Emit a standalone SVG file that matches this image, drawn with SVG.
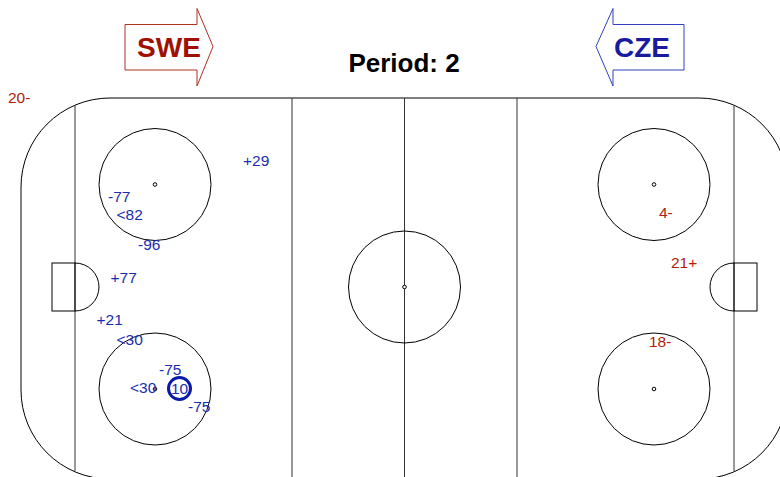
<svg xmlns="http://www.w3.org/2000/svg" width="780" height="477" viewBox="0 0 780 477">
<style>
.ln{fill:none;stroke:#000;stroke-width:1}
.gl{fill:none;stroke:#333;stroke-width:1}
.dot{fill:#fff;stroke:#000;stroke-width:1}
.lb{font-family:"Liberation Sans",Arial,sans-serif;font-size:15.5px}
.bl{fill:#1a2cb0}
.rd{fill:#b01e0a}
.team{font-family:"Liberation Sans",Arial,sans-serif;font-size:28px;font-weight:bold;text-anchor:middle}
</style>
<rect width="780" height="477" fill="#fff"/>
<g id="rink">
<rect class="ln" x="21" y="98" width="767" height="381" rx="89" ry="89"/>
<line class="gl" x1="75" y1="105" x2="75" y2="471"/>
<line class="gl" x1="734" y1="105" x2="734" y2="471"/>
<line class="gl" x1="292" y1="98" x2="292" y2="477"/>
<line class="gl" x1="404.5" y1="98" x2="404.5" y2="477"/>
<line class="gl" x1="517" y1="98" x2="517" y2="477"/>
<circle class="ln" cx="404.5" cy="287" r="56"/>
<circle class="dot" cx="404.5" cy="287" r="1.8"/>
<circle class="ln" cx="155" cy="184.5" r="56"/>
<circle class="ln" cx="155" cy="389" r="56"/>
<circle class="ln" cx="654" cy="184.5" r="56"/>
<circle class="ln" cx="654" cy="389" r="56"/>
<circle class="dot" cx="155" cy="184.5" r="1.8"/>
<circle class="dot" cx="155" cy="389" r="1.8"/>
<circle class="dot" cx="654" cy="184.5" r="1.8"/>
<circle class="dot" cx="654" cy="389" r="1.8"/>
<rect class="ln" x="52" y="263" width="23" height="48"/>
<path class="ln" d="M75 263 A24 24 0 0 1 75 311"/>
<rect class="ln" x="734" y="263" width="23" height="48"/>
<path class="ln" d="M734 263 A24 24 0 0 0 734 311"/>
</g>
<g id="swe">
<polygon points="125,24.5 197,24.5 197,8.5 213,46.5 197,86 197,70 125,70" fill="#fff" stroke="#b03020" stroke-width="1"/>
<text class="team" x="169" y="57" fill="#a01000">SWE</text>
</g>
<g id="cze">
<polygon points="684,24.5 613,24.5 613,8.5 596,46.5 613,86 613,70 684,70" fill="#fff" stroke="#3040c0" stroke-width="1"/>
<text class="team" x="642" y="57" fill="#1a1aa0">CZE</text>
</g>
<g id="title">
<text x="404" y="72" font-family="Liberation Sans,Arial,sans-serif" font-size="26" font-weight="bold" text-anchor="middle" fill="#000">Period: 2</text>
</g>
<g id="labels">
<text class="lb rd" x="8" y="103">20-</text>
<text class="lb bl" x="243" y="166">+29</text>
<text class="lb bl" x="108" y="202">-77</text>
<text class="lb bl" x="116.5" y="220">&lt;82</text>
<text class="lb bl" x="138" y="250">-96</text>
<text class="lb bl" x="110.5" y="283">+77</text>
<text class="lb bl" x="96.5" y="325">+21</text>
<text class="lb bl" x="116.5" y="345">&lt;30</text>
<text class="lb bl" x="159" y="375">-75</text>
<text class="lb bl" x="130" y="393">&lt;30</text>
<text class="lb bl" x="188" y="412">-75</text>
<text class="lb rd" x="659" y="218">4-</text>
<text class="lb rd" x="671" y="268">21+</text>
<text class="lb rd" x="649" y="347">18-</text>
</g>
<g id="player10">
<circle cx="179.5" cy="388.5" r="11" fill="none" stroke="#0a1aa8" stroke-width="3"/>
<text class="lb bl" x="179.5" y="394" text-anchor="middle">10</text>
</g>
</svg>
